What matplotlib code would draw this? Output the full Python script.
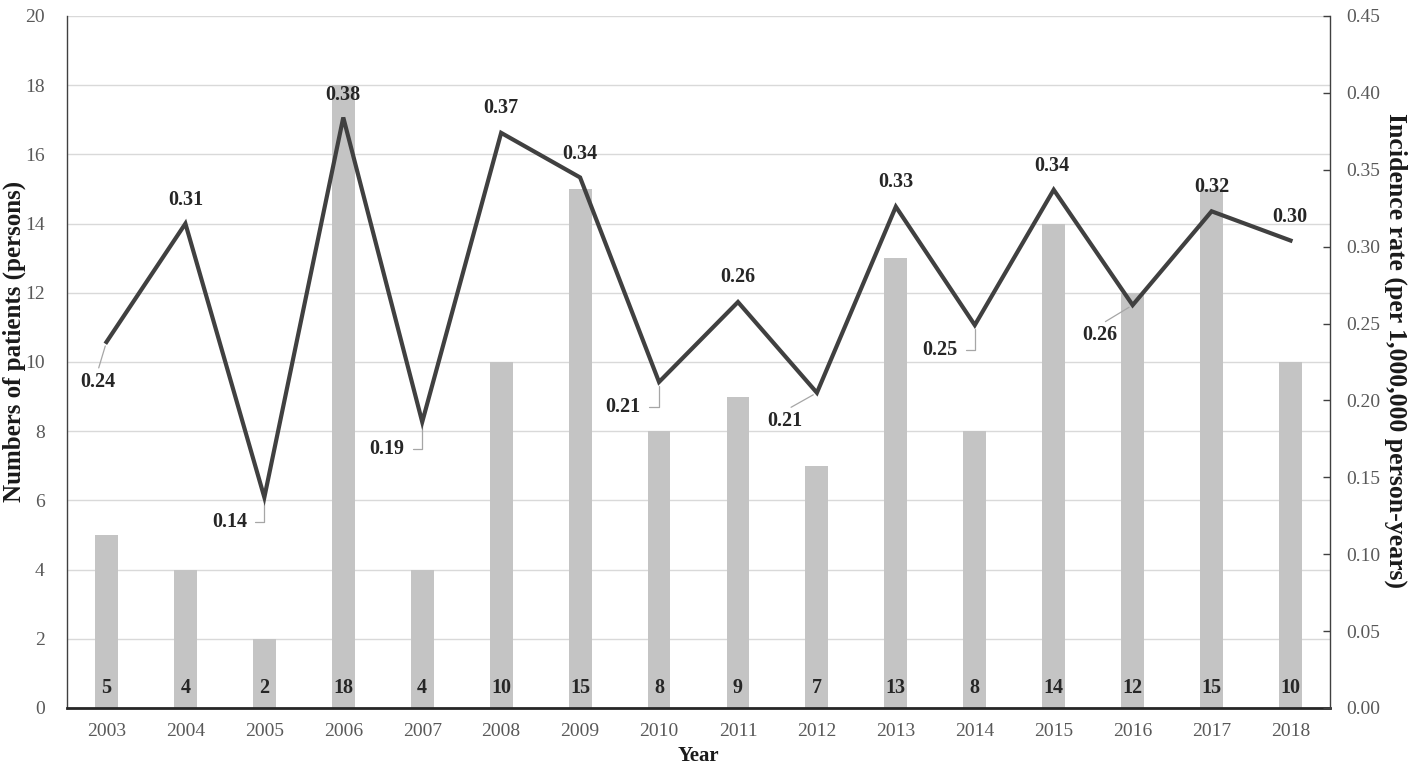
import matplotlib
matplotlib.use("Agg")
import matplotlib.pyplot as plt
import numpy as np

years = ["2003", "2004", "2005", "2006", "2007", "2008", "2009", "2010",
         "2011", "2012", "2013", "2014", "2015", "2016", "2017", "2018"]
patients = [5, 4, 2, 18, 4, 10, 15, 8, 9, 7, 13, 8, 14, 12, 15, 10]
incidence = [0.238, 0.315, 0.137, 0.384, 0.186, 0.374, 0.345, 0.212,
             0.264, 0.205, 0.326, 0.249, 0.337, 0.262, 0.323, 0.304]
incidence_labels = ["0.24", "0.31", "0.14", "0.38", "0.19", "0.37", "0.34", "0.21",
                    "0.26", "0.21", "0.33", "0.25", "0.34", "0.26", "0.32", "0.30"]

# label layout: offset in pixels and leader type
label_offsets = [(-9, -40), (0, 24), (-35, -25), (0, 22), (-35, -27), (0, 25),
                 (0, 23), (-36, -25), (0, 25), (-32, -28), (0, 25), (-35, -25),
                 (-2, 24), (-33, -30), (0, 24), (-1, 24)]
leader = ["straight", None, "angle", None, "angle", None, None, "angle",
          None, "straight", None, "angle", None, "straight", None, None]

plt.rcParams['font.family'] = ['Liberation Serif', 'DejaVu Serif']

fig = plt.figure(figsize=(14.17, 7.67), dpi=100)
ax = fig.add_axes([67/1417, 59/767, (1330-67)/1417, (708-16)/767])
ax2 = ax.twinx()

x = np.arange(len(years))
ax.bar(x, patients, width=0.29, color="#c4c4c4", zorder=2)
ax.set_xlim(-0.5, len(years) - 0.5)
ax.set_ylim(0, 20)
ax.set_yticks(range(0, 21, 2))
ax.set_xticks(x)
ax.set_xticklabels(years)
ax.grid(axis="y", color="#d9d9d9", lw=1.0, zorder=0)
ax.set_axisbelow(True)

for xi, v in zip(x, patients):
    ax.annotate(str(v), (xi, 0), xytext=(0, 20), textcoords="offset pixels",
                ha="center", va="center", fontsize=14.5, fontweight="bold",
                color="#262626", zorder=5)

ax2.plot(x, incidence, color="#404040", lw=3.0, solid_joinstyle="miter", zorder=4)
ax2.set_ylim(0, 0.45)
ax2.set_yticks(np.arange(0, 0.451, 0.05))
ax2.set_yticklabels([f"{t:.2f}" for t in np.arange(0, 0.451, 0.05)])

for xi, v, lab, off, ld in zip(x, incidence, incidence_labels, label_offsets, leader):
    kw = {}
    if ld == "straight":
        kw["arrowprops"] = dict(arrowstyle="-", color="#a6a6a6", lw=0.9,
                                shrinkA=1, shrinkB=3, relpos=(0.5, 1.0))
    elif ld == "angle":
        kw["arrowprops"] = dict(arrowstyle="-", color="#a6a6a6", lw=0.9,
                                shrinkA=4, shrinkB=3, relpos=(1.0, 0.5),
                                connectionstyle="angle,angleA=0,angleB=90,rad=0")
    ax2.annotate(lab, (xi, v), xytext=off, textcoords="offset pixels",
                 ha="center", va="center", fontsize=14.5, fontweight="bold",
                 color="#262626", **kw)

for a in (ax, ax2):
    a.spines["top"].set_visible(False)
ax.spines["left"].set_color("#404040")
ax.spines["left"].set_linewidth(1.0)
ax.spines["bottom"].set_color("#262626")
ax.spines["bottom"].set_linewidth(2.0)
ax.spines["right"].set_visible(False)
ax2.spines["left"].set_visible(False)
ax2.spines["bottom"].set_visible(False)
ax2.spines["right"].set_color("#404040")
ax2.spines["right"].set_linewidth(1.0)

ax.tick_params(axis="y", length=0, pad=16, labelsize=14, labelcolor="#595959")
ax.tick_params(axis="x", length=0, pad=11, labelsize=14, labelcolor="#595959")
ax2.tick_params(axis="y", direction="in", length=5, width=1, color="#404040",
                pad=12, labelsize=14, labelcolor="#595959")

ax.set_ylabel("Numbers of patients (persons)", fontsize=18, fontweight="bold",
              color="#1a1a1a", va="center")
ax.yaxis.set_label_coords((14 - 67) / 1263, 0.53)
ax2.set_ylabel("Incidence rate (per 1,000,000 person-years)", fontsize=18.5,
               fontweight="bold", color="#1a1a1a", rotation=270, va="center")
ax2.yaxis.set_label_coords(1.052, 0.517)
ax.set_xlabel("Year", fontsize=15, fontweight="bold", color="#1a1a1a", va="center")
ax.xaxis.set_label_coords(0.5, -(756 - 708) / 692)

fig.savefig("out.png", dpi=100)
